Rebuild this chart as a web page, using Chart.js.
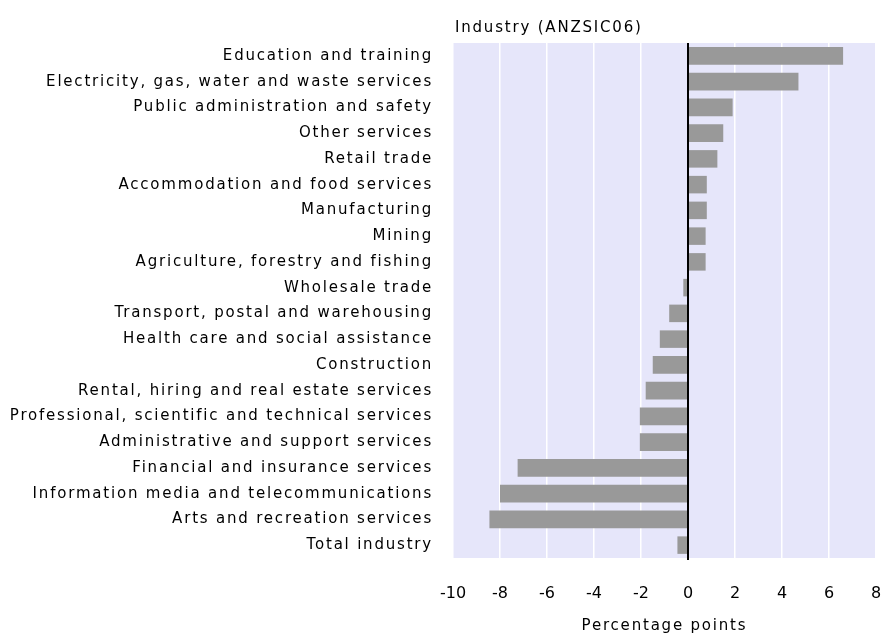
<!DOCTYPE html>
<html><head><meta charset="utf-8">
<script src="https://cdn.jsdelivr.net/npm/chart.js@4/dist/chart.umd.min.js"></script>
<style>html,body{margin:0;padding:0;background:#fff}#wrap{width:882px;height:634px}</style>
</head><body><div id="wrap"><canvas id="c" width="882" height="634"></canvas></div>
<script>
const categories = [
  'Education and training',
  'Electricity, gas, water and waste services',
  'Public administration and safety',
  'Other services',
  'Retail trade',
  'Accommodation and food services',
  'Manufacturing',
  'Mining',
  'Agriculture, forestry and fishing',
  'Wholesale trade',
  'Transport, postal and warehousing',
  'Health care and social assistance',
  'Construction',
  'Rental, hiring and real estate services',
  'Professional, scientific and technical services',
  'Administrative and support services',
  'Financial and insurance services',
  'Information media and telecommunications',
  'Arts and recreation services',
  'Total industry'
];
const values = [6.6, 4.7, 1.9, 1.5, 1.25, 0.8, 0.8, 0.75, 0.75, -0.2, -0.8, -1.2, -1.5, -1.8, -2.05, -2.05, -7.25, -8.0, -8.45, -0.45];
const xTicks = [-10, -8, -6, -4, -2, 0, 2, 4, 6, 8];
const chartTitle = 'Industry (ANZSIC06)';
const xAxisTitle = 'Percentage points';

const FONT = '"DejaVu Sans", sans-serif';
const SPACING = '1.8px';

const bgPlugin = {
  id: 'bg',
  beforeDraw(chart) {
    const { ctx, chartArea: a } = chart;
    ctx.save();
    ctx.fillStyle = '#E6E6FA';
    ctx.fillRect(a.left, a.top, a.right - a.left, a.bottom - a.top);
    ctx.restore();
  }
};

const zeroLinePlugin = {
  id: 'zeroLine',
  afterDatasetsDraw(chart) {
    const { ctx, chartArea: a } = chart;
    const x = Math.round(chart.scales.x.getPixelForValue(0));
    ctx.save();
    ctx.strokeStyle = '#000000';
    ctx.lineWidth = 2;
    ctx.beginPath();
    ctx.moveTo(x, a.top);
    ctx.lineTo(x, a.bottom + 2);
    ctx.stroke();
    ctx.restore();
  }
};

const spacingPlugin = {
  id: 'spacing',
  afterLayout(chart) {
    const s = chart.scales.y;
    if (!s._spaced) {
      const orig = s.drawLabels.bind(s);
      s.drawLabels = function (area) {
        const c = this.ctx;
        const prev = c.letterSpacing;
        c.letterSpacing = SPACING;
        orig(area);
        c.letterSpacing = prev || '0px';
      };
      s._spaced = true;
    }
  }
};

const textPlugin = {
  id: 'texts',
  afterDraw(chart) {
    const { ctx, chartArea: a } = chart;
    ctx.save();
    ctx.letterSpacing = SPACING;
    ctx.fillStyle = '#000000';
    ctx.font = '15px ' + FONT;
    ctx.textBaseline = 'middle';
    ctx.textAlign = 'left';
    ctx.fillText(chartTitle, a.left + 2, 28);
    ctx.textAlign = 'center';
    ctx.fillText(xAxisTitle, (a.left + a.right) / 2, 626);
    ctx.restore();
  }
};

new Chart(document.getElementById('c'), {
  type: 'bar',
  data: {
    labels: categories,
    datasets: [{
      data: values,
      backgroundColor: '#999999',
      borderWidth: 0,
      barPercentage: 0.68,
      categoryPercentage: 1.0
    }]
  },
  options: {
    indexAxis: 'y',
    responsive: false,
    animation: false,
    devicePixelRatio: 1,
    layout: { padding: { top: 43, right: 6, bottom: 0, left: 0 } },
    plugins: { legend: { display: false }, tooltip: { enabled: false }, title: { display: false } },
    scales: {
      x: {
        min: xTicks[0],
        max: xTicks[xTicks.length - 1],
        afterBuildTicks: s => { s.ticks = xTicks.map(v => ({ value: v })); },
        grid: { color: '#ffffff', lineWidth: 1.5, drawTicks: false },
        border: { display: false },
        ticks: { padding: 26, color: '#000000', font: { family: FONT, size: 16 }, maxRotation: 0, autoSkip: false },
        afterFit: s => { s.height = 76; s.paddingLeft = 0; s.paddingRight = 0; }
      },
      y: {
        grid: { display: false },
        border: { display: false },
        ticks: { padding: 12, color: '#000000', font: { family: FONT, size: 15 }, autoSkip: false },
        afterFit: s => { s.width = 453; s.paddingTop = 0; s.paddingBottom = 0; }
      }
    }
  },
  plugins: [bgPlugin, zeroLinePlugin, spacingPlugin, textPlugin]
});
</script>
</body></html>
